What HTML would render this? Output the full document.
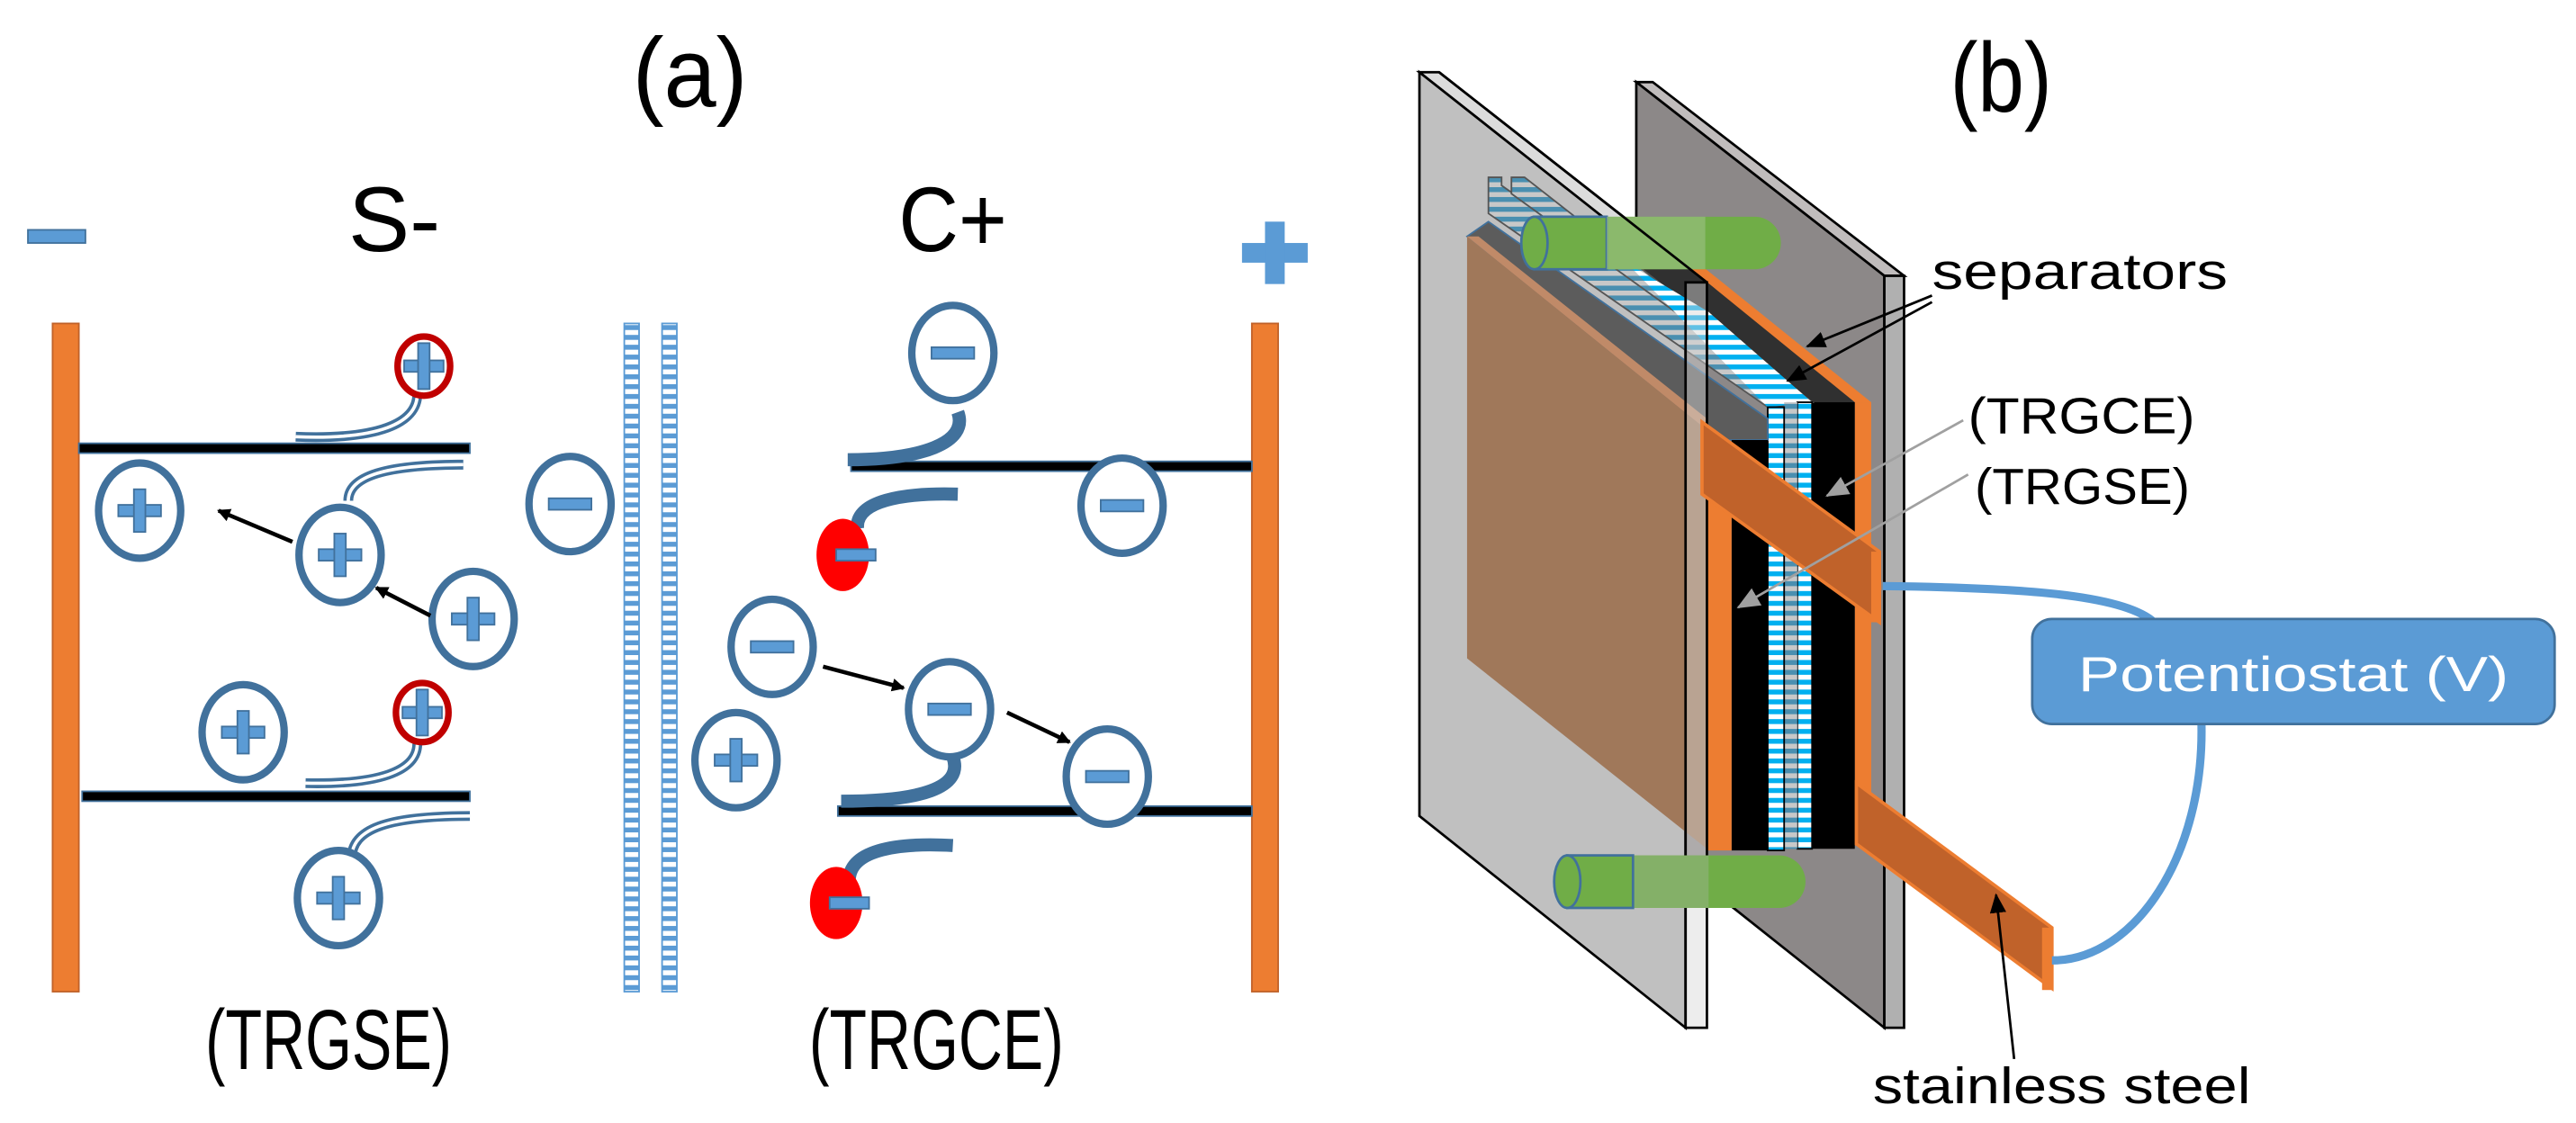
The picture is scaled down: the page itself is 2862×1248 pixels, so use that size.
<!DOCTYPE html>
<html><head><meta charset="utf-8"><style>html,body{margin:0;padding:0;background:#fff}svg{display:block}</style></head><body>
<svg width="2862" height="1248" viewBox="0 0 1568 684" preserveAspectRatio="none" xmlns="http://www.w3.org/2000/svg" font-family="Liberation Sans, sans-serif">
<defs>
<pattern id="sep" width="10" height="6" patternUnits="userSpaceOnUse"><rect width="10" height="6" fill="#fff"/><rect width="10" height="3" fill="#5b9bd5"/></pattern>
<pattern id="sep2" width="10" height="6" patternUnits="userSpaceOnUse"><rect width="10" height="6" fill="#fff"/><rect width="10" height="3" fill="#00b0f0"/></pattern>
<pattern id="sep3" width="10" height="6" patternUnits="userSpaceOnUse"><rect width="10" height="6" fill="#c8c8c8"/><rect width="10" height="3" fill="#4a8fb0"/></pattern>
<marker id="ah" markerWidth="8" markerHeight="8" refX="7" refY="4" orient="auto" markerUnits="userSpaceOnUse"><path d="M0,0 L8,4 L0,8z" fill="#000"/></marker>
<marker id="ahb" markerWidth="12" markerHeight="10" refX="11" refY="5" orient="auto" markerUnits="userSpaceOnUse"><path d="M0,0 L12,5 L0,10z" fill="#000"/></marker>
<marker id="ahg" markerWidth="14" markerHeight="12" refX="13" refY="6" orient="auto" markerUnits="userSpaceOnUse"><path d="M0,0 L14,6 L0,12z" fill="#a0a0a0"/></marker>
<g id="pc"><ellipse rx="25" ry="29" fill="#fff" stroke="#41719c" stroke-width="4.5"/><rect x="-13" y="-3.5" width="26" height="7" fill="#5b9bd5" stroke="#41719c" stroke-width="1"/><rect x="-3.5" y="-13" width="7" height="26" fill="#5b9bd5" stroke="#41719c" stroke-width="1"/></g>
<g id="mc"><ellipse rx="25" ry="29" fill="#fff" stroke="#41719c" stroke-width="4.5"/><rect x="-13" y="-3.5" width="26" height="7" fill="#5b9bd5" stroke="#41719c" stroke-width="1"/></g>
<g id="rp"><ellipse rx="16" ry="18" fill="#fff" stroke="#c00000" stroke-width="4"/><rect x="-12" y="-3.5" width="24" height="7" fill="#5b9bd5" stroke="#41719c" stroke-width="1"/><rect x="-3.5" y="-14" width="7" height="28" fill="#5b9bd5" stroke="#41719c" stroke-width="1"/></g>
<g id="rm"><ellipse rx="16" ry="22" fill="#ff0000"/><rect x="-4" y="-3.5" width="24" height="7" fill="#5b9bd5" stroke="#41719c" stroke-width="1"/></g>
</defs>

<!-- (a) panel -->
<text x="420" y="65" font-size="60" text-anchor="middle" textLength="70" lengthAdjust="spacingAndGlyphs">(a)</text>
<rect x="17" y="140" width="35" height="8" fill="#5b9bd5" stroke="#41719c" stroke-width="1"/>
<text x="240" y="153" font-size="56" text-anchor="middle" textLength="56" lengthAdjust="spacingAndGlyphs">S-</text>
<text x="580" y="153" font-size="56" text-anchor="middle" textLength="66" lengthAdjust="spacingAndGlyphs">C+</text>
<rect x="756" y="148" width="40" height="12" fill="#5b9bd5"/><rect x="770" y="135" width="12" height="38" fill="#5b9bd5"/>
<rect x="32" y="197" width="16" height="407" fill="#ed7d31" stroke="#c0622a" stroke-width="1"/>
<rect x="762" y="197" width="16" height="407" fill="#ed7d31" stroke="#c0622a" stroke-width="1"/>
<rect x="380" y="197" width="9" height="407" fill="url(#sep)" stroke="#5b9bd5" stroke-width="1"/>
<rect x="403" y="197" width="9" height="407" fill="url(#sep)" stroke="#5b9bd5" stroke-width="1"/>
<rect x="48" y="270" width="238" height="6" fill="#000" stroke="#41719c" stroke-width="1"/>
<rect x="50" y="482" width="236" height="6" fill="#000" stroke="#41719c" stroke-width="1"/>
<rect x="518" y="281" width="244" height="6" fill="#000" stroke="#41719c" stroke-width="1"/>
<rect x="510" y="491" width="252" height="6" fill="#000" stroke="#41719c" stroke-width="1"/>
<g fill="none" stroke="#41719c" stroke-width="6"><path d="M254,240 C254,258 230,268 180,266"/><path d="M212,305 C212,290 235,283 282,283"/><path d="M254,453 C254,470 230,478 186,477"/><path d="M214,523 C214,505 235,497 286,497"/></g>
<g fill="none" stroke="#fff" stroke-width="2"><path d="M254,240 C254,258 230,268 180,266"/><path d="M212,305 C212,290 235,283 282,283"/><path d="M254,453 C254,470 230,478 186,477"/><path d="M214,523 C214,505 235,497 286,497"/></g>
<g fill="none" stroke="#41719c" stroke-width="8"><path d="M583,251 C590,270 560,280 516,280"/><path d="M583,301 C550,300 520,305 522,322"/><path d="M580,461 C587,480 560,488 512,488"/><path d="M580,515 C545,513 515,518 517,538"/></g>
<use href="#pc" x="85" y="311"/><use href="#pc" x="207" y="338"/><use href="#pc" x="288" y="377"/><use href="#pc" x="148" y="446"/><use href="#pc" x="206" y="547"/><use href="#pc" x="448" y="463"/>
<use href="#rp" x="258" y="223"/><use href="#rp" x="257" y="434"/>
<use href="#mc" x="347" y="307"/><use href="#mc" x="580" y="215"/><use href="#mc" x="683" y="308"/><use href="#mc" x="470" y="394"/><use href="#mc" x="578" y="432"/><use href="#mc" x="674" y="473"/>
<use href="#rm" x="513" y="338"/><use href="#rm" x="509" y="550"/>
<g stroke="#000" stroke-width="2.5" marker-end="url(#ah)"><line x1="178" y1="330" x2="133" y2="311"/><line x1="262" y1="375" x2="229" y2="358"/><line x1="501" y1="406" x2="550" y2="419"/><line x1="613" y1="434" x2="651" y2="452"/></g>
<text x="200" y="651" font-size="52" text-anchor="middle" textLength="150" lengthAdjust="spacingAndGlyphs">(TRGSE)</text>
<text x="570" y="651" font-size="52" text-anchor="middle" textLength="155" lengthAdjust="spacingAndGlyphs">(TRGCE)</text>

<!-- (b) panel -->
<text x="1218" y="68" font-size="60" text-anchor="middle" textLength="62" lengthAdjust="spacingAndGlyphs">(b)</text>
<!-- back plate -->
<polygon points="996,50 1006,50 1159,168 1147,168" fill="#c0bcbc" stroke="#000" stroke-width="1.5"/>
<polygon points="996,50 1147,168 1147,626 996,506" fill="#8c8888" stroke="#000" stroke-width="1.5"/>
<rect x="1147" y="168" width="12" height="458" fill="#b0b0b0" stroke="#000" stroke-width="1.5"/>
<!-- front plate face -->
<polygon points="864,44 876,44 1039,172 1026,172" fill="#dcdcdc" stroke="#000" stroke-width="1.5"/>
<polygon points="864,44 1026,172 1026,626 864,497" fill="#c0c0c0" stroke="#000" stroke-width="1.5"/>
<!-- orange frame -->
<polygon points="986,133 1000,133 1139,245 1129,245" fill="#ed7d31"/>
<rect x="1129" y="245" width="10" height="270" fill="#ed7d31"/>
<polygon points="1000,140 1129,245 1102,245 990,160" fill="#303030"/>
<rect x="1102" y="245" width="27" height="272" fill="#000"/>
<!-- top stripes behind brown -->
<polygon points="906,108 914,108 914,113 1103,245 1076,248 906,130" fill="url(#sep3)" stroke="#555" stroke-width="1"/>
<polygon points="920,108 928,108 1103,245 1096,245 920,118" fill="url(#sep3)" stroke="#555" stroke-width="1"/>
<polygon points="990,160 1040,190 1103,245 1076,248" fill="url(#sep2)"/>
<rect x="1094" y="245" width="9" height="272" fill="url(#sep2)" stroke="#000" stroke-width="1"/>
<rect x="1086" y="245" width="8" height="272" fill="url(#sep3)"/>
<rect x="1076" y="248" width="10" height="270" fill="url(#sep2)" stroke="#000" stroke-width="1"/>
<polygon points="893,144 906,135 1076,255 1076,268 1039,268" fill="#5c5c5c" stroke="#41719c" stroke-width="1"/>
<rect x="1054" y="268" width="22" height="250" fill="#000"/>
<rect x="1039" y="300" width="15" height="218" fill="#ed7d31"/>
<!-- top green rod -->
<rect x="934" y="132" width="150" height="32" rx="16" fill="#70ad47"/>
<rect x="934" y="132" width="44" height="32" fill="#70ad47" stroke="#41719c" stroke-width="1.5"/>
<rect x="978" y="132" width="60" height="32" fill="#9cc285" opacity="0.6"/>
<ellipse cx="934" cy="148" rx="8" ry="16" fill="#70ad47" stroke="#41719c" stroke-width="1.5"/>
<!-- brown electrode -->
<polygon points="893,144 1039,262 1039,517 893,401" fill="#a0785a"/>
<polygon points="893,144 900,144 1039,255 1039,262" fill="#c08a68"/>
<!-- front plate edge -->
<line x1="876" y1="44" x2="1039" y2="172" stroke="#000" stroke-width="1.5"/>
<rect x="1026" y="172" width="13" height="454" fill="#d8d8d8" fill-opacity="0.45" stroke="#000" stroke-width="1.5"/>
<!-- bottom green rod -->
<rect x="954" y="521" width="145" height="32" rx="16" fill="#70ad47"/>
<rect x="990" y="521" width="50" height="32" fill="#8ab070" opacity="0.8"/>
<rect x="954" y="521" width="40" height="32" fill="#70ad47" stroke="#41719c" stroke-width="1.5"/>
<ellipse cx="954" cy="537" rx="8" ry="16" fill="#70ad47" stroke="#41719c" stroke-width="1.5"/>
<!-- tabs -->
<polygon points="1036,257 1144,336 1144,379 1036,301" fill="#c0622a" stroke="#ed7d31" stroke-width="2"/>
<rect x="1139" y="336" width="6" height="43" fill="#ed7d31"/>
<polygon points="1130,477 1249,565 1249,602 1130,514" fill="#c0622a" stroke="#ed7d31" stroke-width="2"/>
<rect x="1243" y="565" width="7" height="38" fill="#ed7d31"/>
<!-- wire -->
<path d="M1146,357 C1230,358 1290,362 1310,378" fill="none" stroke="#5b9bd5" stroke-width="5"/>
<path d="M1340,440 C1342,520 1300,585 1249,585" fill="none" stroke="#5b9bd5" stroke-width="5"/>
<rect x="1237" y="377" width="318" height="64" rx="12" fill="#5b9bd5" stroke="#41719c" stroke-width="1.5"/>
<text x="1396" y="421" font-size="30" fill="#fff" text-anchor="middle" textLength="262" lengthAdjust="spacingAndGlyphs">Potentiostat (V)</text>
<!-- labels -->
<text x="1176" y="176" font-size="31" textLength="180" lengthAdjust="spacingAndGlyphs">separators</text>
<g stroke="#000" stroke-width="1.5" marker-end="url(#ahb)"><line x1="1176" y1="180" x2="1100" y2="211"/><line x1="1176" y1="184" x2="1088" y2="232"/></g>
<text x="1198" y="264" font-size="31" textLength="138" lengthAdjust="spacingAndGlyphs">(TRGCE)</text>
<text x="1202" y="307" font-size="31" textLength="131" lengthAdjust="spacingAndGlyphs">(TRGSE)</text>
<g stroke="#a0a0a0" stroke-width="1.5" marker-end="url(#ahg)"><line x1="1195" y1="256" x2="1112" y2="302"/><line x1="1198" y1="289" x2="1058" y2="370"/></g>
<line x1="1226" y1="645" x2="1215" y2="545" stroke="#000" stroke-width="1.5" marker-end="url(#ahb)"/>
<text x="1140" y="672" font-size="31" textLength="230" lengthAdjust="spacingAndGlyphs">stainless steel</text>
</svg>
</body></html>
